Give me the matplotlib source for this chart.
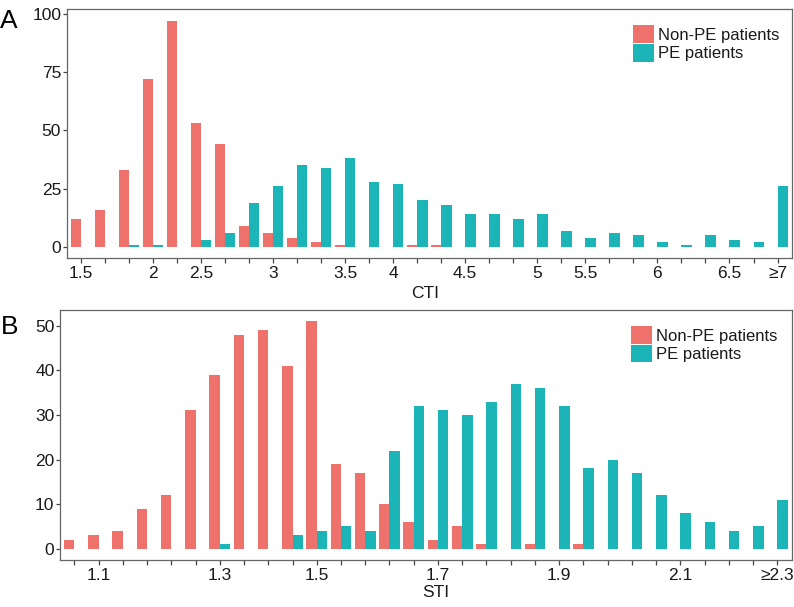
import numpy as np
import matplotlib.pyplot as plt

plt.rcParams['font.family'] = ['Liberation Sans', 'DejaVu Sans']

# panel A: CTI histogram counts (30 bins, last is >=7)
cti_nonpe = [12, 16, 33, 72, 97, 53, 44, 9, 6, 4, 2, 1, 0, 0, 1, 1,
             0, 0, 0, 0, 0, 0, 0, 0, 0, 0, 0, 0, 0, 0]
cti_pe = [0, 0, 1, 1, 0, 3, 6, 19, 26, 35, 34, 38, 28, 27, 20, 18,
          14, 14, 12, 14, 7, 4, 6, 5, 2, 1, 5, 3, 2, 26]
cti_label_pos = [0, 3, 5, 8, 11, 13, 16, 19, 21, 24, 27, 29]
cti_labels = ['1.5', '2', '2.5', '3', '3.5', '4', '4.5', '5', '5.5', '6', '6.5', '≥7']

# panel B: STI histogram counts (30 bins, last is >=2.3)
sti_nonpe = [2, 3, 4, 9, 12, 31, 39, 48, 49, 41, 51, 19, 17, 10, 6, 2,
             5, 1, 0, 1, 0, 1, 0, 0, 0, 0, 0, 0, 0, 0]
sti_pe = [0, 0, 0, 0, 0, 0, 1, 0, 0, 3, 4, 5, 4, 22, 32, 31,
          30, 33, 37, 36, 32, 18, 20, 17, 12, 8, 6, 4, 5, 11]
sti_label_pos = [1, 6, 10, 15, 20, 25, 29]
sti_labels = ['1.1', '1.3', '1.5', '1.7', '1.9', '2.1', '≥2.3']

red = '#EE726B'
teal = '#1BB5B8'
W, H = 794, 607


def draw_panel(ax, nonpe, pe, label_pos, labels, xlabel, xlab_xy, yticks):
    x = np.arange(len(nonpe))
    w = 0.43
    ax.bar(x - w / 2, nonpe, width=w, color=red, label='Non-PE patients')
    ax.bar(x + w / 2, pe, width=w, color=teal, label='PE patients')
    top = max(max(nonpe), max(pe))
    ax.set_xlim(-0.59, len(nonpe) - 1 + 0.59)
    ax.set_ylim(-0.05 * top, 1.05 * top)
    ax.set_xticks(x)
    lab = [''] * len(x)
    for p, t in zip(label_pos, labels):
        lab[p] = t
    ax.set_xticklabels(lab)
    ax.set_yticks(yticks)
    for s in ax.spines.values():
        s.set_color('#666666')
        s.set_linewidth(0.9)
    ax.tick_params(axis='x', length=3.6, width=0.9, color='#444444',
                   labelsize=12.5, labelcolor='#1a1a1a', pad=2)
    ax.tick_params(axis='y', length=3, width=0.9, color='#444444',
                   labelsize=12.5, labelcolor='#1a1a1a', pad=1)
    ax.set_xlabel(xlabel, fontsize=12.5, color='#1a1a1a', va='top')
    ax.xaxis.set_label_coords(*xlab_xy)
    leg = ax.legend(loc='upper left', bbox_to_anchor=(0.781, 0.935),
                    frameon=False, fontsize=12, handlelength=1.25,
                    handleheight=1.25, labelspacing=0.05, handletextpad=0.25,
                    borderpad=0, borderaxespad=0)
    for t in leg.get_texts():
        t.set_color('#1a1a1a')


fig = plt.figure(figsize=(W / 100, H / 100), dpi=100)
ax1 = fig.add_axes([66.7 / W, 1 - 258.3 / H, 725 / W, 249 / H])
ax2 = fig.add_axes([60 / W, 1 - 560 / H, 731.7 / W, 250 / H])

draw_panel(ax1, cti_nonpe, cti_pe, cti_label_pos, cti_labels, 'CTI',
           (0.494, -0.11), [0, 25, 50, 75, 100])
draw_panel(ax2, sti_nonpe, sti_pe, sti_label_pos, sti_labels, 'STI',
           (0.514, -0.1), [0, 10, 20, 30, 40, 50])

fig.text(0 / W, 1 - 21 / H, 'A', fontsize=19, va='center', ha='left')
fig.text(1 / W, 1 - 327 / H, 'B', fontsize=19, va='center', ha='left')

plt.savefig('out.png', dpi=100)
